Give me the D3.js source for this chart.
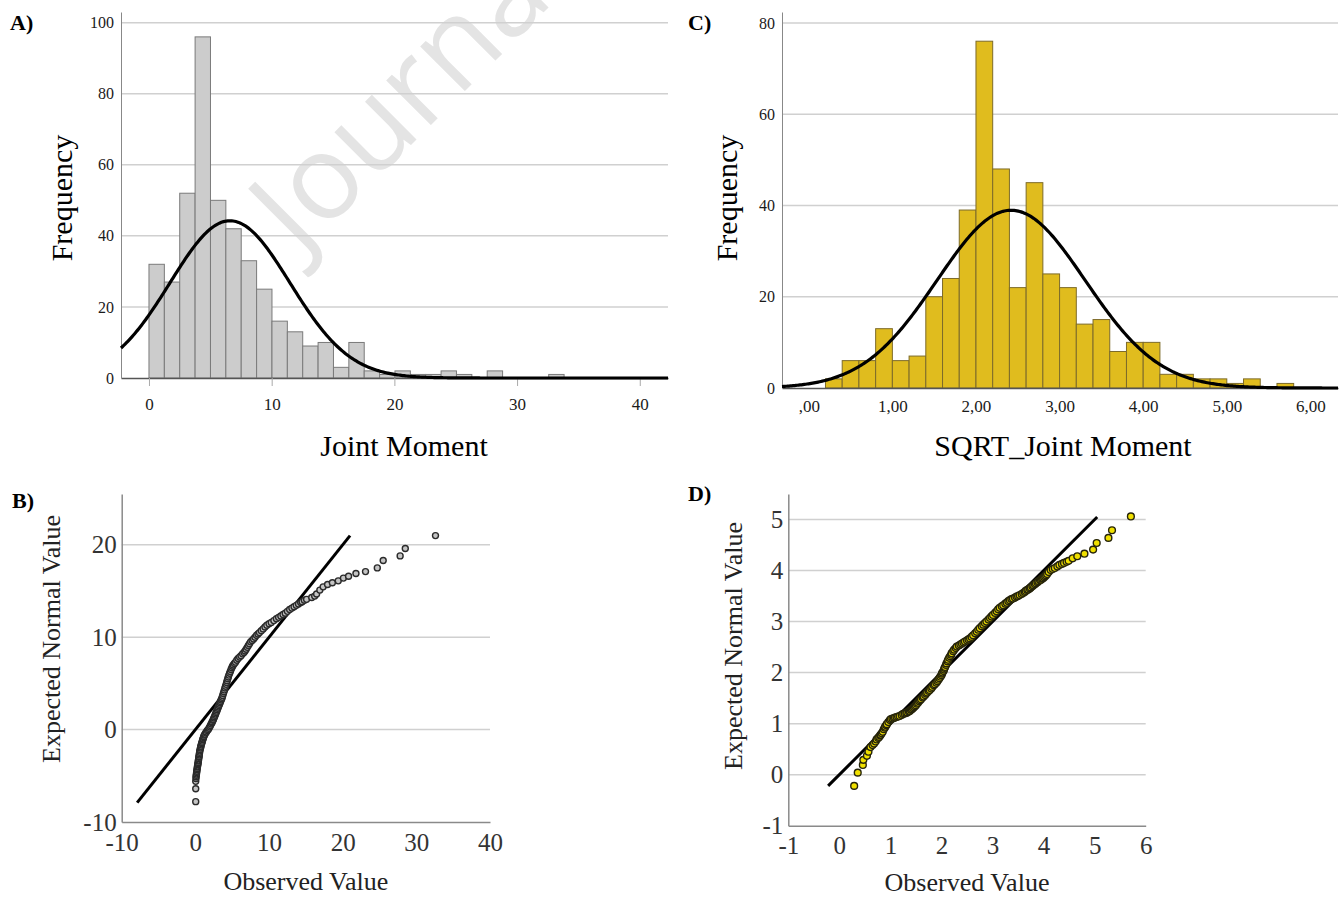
<!DOCTYPE html>
<html>
<head>
<meta charset="utf-8">
<script src="https://cdn.jsdelivr.net/npm/d3@7"></script>
<style>
  body { margin: 0; background: #fff; }
  svg text { font-family: "Liberation Serif", "Times New Roman", serif; }
</style>
</head>
<body>
<svg id="chart" width="1344" height="899"></svg>
<script>
// ---- data ----
// A) histogram of Joint Moment, bins of ~1.253 starting at 0
const histA = [32, 27, 52, 96, 50, 42, 33, 25, 16, 13, 9, 10, 3, 10, 2, 1, 2, 1, 1, 2, 1, 0, 2, 0, 0, 0, 1];
const binA = { start: 0, width: 1.253 };
const normA = { mean: 6.6, sd: 4.88, n: 432 };
const xTicksA = [0, 10, 20, 30, 40];
const yTicksA = [0, 20, 40, 60, 80, 100];

// C) histogram of SQRT_Joint Moment, bins of 0.2 starting at 0.2
const histC = [2, 6, 6, 13, 6, 7, 20, 24, 39, 76, 48, 22, 45, 25, 22, 14, 15, 8, 10, 10, 3, 3, 2, 2, 1, 2, 0, 1];
const binC = { start: 0.2, width: 0.2 };
const normC = { mean: 2.42, sd: 0.885, n: 432 };
const xTicksC = [0, 1, 2, 3, 4, 5, 6];
const xLabelsC = [",00", "1,00", "2,00", "3,00", "4,00", "5,00", "6,00"];
const yTicksC = [0, 20, 40, 60, 80];

// B) Q-Q plot of Joint Moment: [observed, expected]
const qqB = [
  [0.05, -7.8], [0.05, -6.4], [0.05, -5.6], [0.08, -5.3], [0.1, -5.1], [0.12, -4.95], [0.15, -4.8],
  [0.17, -4.65], [0.2, -4.5], [0.22, -4.35], [0.25, -4.2], [0.28, -4.05], [0.3, -3.95], [0.33, -3.8],
  [0.35, -3.7], [0.38, -3.55], [0.4, -3.4], [0.43, -3.3], [0.45, -3.15], [0.48, -3.0], [0.5, -2.9],
  [0.53, -2.75], [0.55, -2.6], [0.58, -2.45], [0.6, -2.3], [0.65, -2.15], [0.7, -2.0], [0.72, -1.9],
  [0.75, -1.8], [0.8, -1.65], [0.85, -1.5], [0.9, -1.4], [0.95, -1.25], [1.0, -1.1], [1.05, -1.0],
  [1.1, -0.85], [1.15, -0.75], [1.22, -0.6], [1.3, -0.5], [1.4, -0.35], [1.5, -0.25], [1.62, -0.1],
  [1.75, 0], [1.85, 0.15], [1.95, 0.3], [2.05, 0.45], [2.15, 0.6], [2.25, 0.75], [2.3, 0.85],
  [2.4, 1.0], [2.45, 1.1], [2.52, 1.25], [2.6, 1.4], [2.68, 1.55], [2.75, 1.7], [2.82, 1.85],
  [2.9, 2.0], [2.98, 2.15], [3.05, 2.3], [3.12, 2.45], [3.2, 2.6], [3.28, 2.75], [3.35, 2.9],
  [3.42, 3.05], [3.5, 3.2], [3.58, 3.35], [3.65, 3.5], [3.72, 3.7], [3.8, 3.9], [3.88, 4.1],
  [3.95, 4.3], [4.02, 4.5], [4.1, 4.7], [4.18, 4.9], [4.25, 5.1], [4.32, 5.3], [4.4, 5.5],
  [4.48, 5.7], [4.55, 5.9], [4.65, 6.1], [4.75, 6.3], [4.85, 6.5], [4.95, 6.7], [5.05, 6.85],
  [5.15, 7.0], [5.3, 7.15], [5.45, 7.3], [5.62, 7.5], [5.8, 7.7], [6.0, 7.85], [6.2, 8.0],
  [6.4, 8.2], [6.6, 8.35], [6.75, 8.5], [6.9, 8.7], [7.05, 8.9], [7.2, 9.1], [7.35, 9.3],
  [7.5, 9.5], [7.7, 9.65], [7.9, 9.8], [8.1, 10.0], [8.3, 10.2], [8.5, 10.35], [8.7, 10.5],
  [8.95, 10.7], [9.2, 10.9], [9.45, 11.1], [9.7, 11.3], [10.0, 11.45], [10.3, 11.6], [10.65, 11.8],
  [11.0, 12.0], [11.3, 12.15], [11.6, 12.3], [11.9, 12.45], [12.2, 12.6], [12.5, 12.8], [12.8, 13.0],
  [13.1, 13.15], [13.4, 13.3], [13.7, 13.45], [14.0, 13.6], [14.3, 13.75], [14.5, 13.85],
  [14.8, 14.0], [15.1, 14.1], [15.8, 14.3], [16.2, 14.45], [16.46, 14.67], [16.9, 15.1],
  [17.35, 15.45], [17.95, 15.7], [18.6, 15.9], [19.4, 16.1], [20.1, 16.4], [20.8, 16.6],
  [21.8, 16.9], [23.1, 17.1], [24.7, 17.5], [25.5, 18.3], [27.8, 18.8], [28.5, 19.6], [32.6, 21.0]
];
const refB = [[-7.9, -7.9], [21.0, 21.0]];
const xTicksB = [-10, 0, 10, 20, 30, 40];
const yTicksB = [-10, 0, 10, 20];

// D) Q-Q plot of SQRT_Joint Moment: [observed, expected]
const qqD = [
  [0.29, -0.22], [0.36, 0.04], [0.46, 0.19], [0.47, 0.29], [0.54, 0.37], [0.57, 0.45], [0.61, 0.54],
  [0.65, 0.58], [0.68, 0.61], [0.71, 0.65], [0.73, 0.69], [0.76, 0.72], [0.78, 0.74], [0.8, 0.77],
  [0.81, 0.78], [0.83, 0.81], [0.85, 0.84], [0.87, 0.89], [0.89, 0.92], [0.9, 0.94], [0.92, 0.97],
  [0.93, 0.99], [0.96, 1.03], [0.99, 1.07], [1.01, 1.09], [1.04, 1.10], [1.07, 1.11], [1.09, 1.12],
  [1.12, 1.13], [1.15, 1.14], [1.18, 1.15], [1.22, 1.17], [1.25, 1.19], [1.28, 1.2], [1.31, 1.21],
  [1.33, 1.22], [1.36, 1.24], [1.38, 1.25], [1.4, 1.27], [1.42, 1.28], [1.44, 1.3], [1.46, 1.32],
  [1.48, 1.34], [1.50, 1.36], [1.52, 1.39], [1.54, 1.41], [1.56, 1.44], [1.58, 1.46], [1.6, 1.48],
  [1.63, 1.51], [1.65, 1.53], [1.68, 1.56], [1.7, 1.59], [1.72, 1.61], [1.75, 1.64], [1.77, 1.66],
  [1.8, 1.69], [1.82, 1.72], [1.85, 1.75], [1.87, 1.77], [1.9, 1.8], [1.92, 1.83], [1.94, 1.86],
  [1.96, 1.89], [1.98, 1.92], [2.0, 1.95], [2.01, 1.98], [2.02, 2.0], [2.04, 2.03], [2.05, 2.06],
  [2.06, 2.09], [2.07, 2.11], [2.09, 2.15], [2.1, 2.18], [2.12, 2.22], [2.13, 2.25], [2.15, 2.29],
  [2.17, 2.32], [2.19, 2.35], [2.2, 2.38], [2.23, 2.42], [2.25, 2.45], [2.28, 2.48], [2.3, 2.51],
  [2.34, 2.53], [2.37, 2.55], [2.4, 2.57], [2.43, 2.59], [2.46, 2.61], [2.5, 2.63], [2.53, 2.65],
  [2.56, 2.67], [2.59, 2.7], [2.62, 2.73], [2.66, 2.77], [2.69, 2.8], [2.72, 2.84], [2.75, 2.87],
  [2.79, 2.91], [2.82, 2.94], [2.85, 2.97], [2.88, 3.0], [2.92, 3.04], [2.95, 3.07], [2.98, 3.1],
  [3.01, 3.13], [3.05, 3.17], [3.08, 3.2], [3.11, 3.24], [3.14, 3.27], [3.18, 3.3], [3.21, 3.32],
  [3.25, 3.35], [3.28, 3.37], [3.31, 3.4], [3.34, 3.42], [3.37, 3.44], [3.4, 3.45], [3.44, 3.47],
  [3.47, 3.49], [3.5, 3.5], [3.53, 3.52], [3.57, 3.54], [3.6, 3.56], [3.63, 3.58], [3.65, 3.6],
  [3.68, 3.62], [3.7, 3.63], [3.73, 3.65], [3.75, 3.67], [3.78, 3.69], [3.8, 3.71], [3.83, 3.73],
  [3.85, 3.75], [3.88, 3.77], [3.9, 3.79], [3.93, 3.81], [3.95, 3.82], [3.97, 3.84], [3.99, 3.85],
  [4.01, 3.87], [4.03, 3.89], [4.05, 3.91], [4.07, 3.93], [4.1, 3.97], [4.14, 4.01], [4.18, 4.03],
  [4.22, 4.05], [4.27, 4.08], [4.31, 4.11], [4.36, 4.13], [4.40, 4.15], [4.45, 4.17], [4.49, 4.19],
  [4.57, 4.24], [4.66, 4.28], [4.80, 4.33], [4.97, 4.41], [5.04, 4.54], [5.27, 4.64], [5.34, 4.79],
  [5.71, 5.06]
];
const refD = [[-0.22, -0.22], [5.05, 5.05]];
const xTicksD = [-1, 0, 1, 2, 3, 4, 5, 6];
const yTicksD = [-1, 0, 1, 2, 3, 4, 5];

const svg = d3.select("#chart");
const plainNum = (d) => String(d);

// watermark
svg.append("text")
  .attr("transform", "translate(300,256) rotate(-45)")
  .style("font-family", "'Open Sans', 'DejaVu Sans', sans-serif")
  .attr("font-size", 118)
  .attr("fill", "#e4e4e4")
  .text("Journal");

function drawHist(cfg) {
  const x = d3.scaleLinear().domain(cfg.xDomain).range([cfg.left, cfg.right]);
  const y = d3.scaleLinear().domain(cfg.yDomain).range([cfg.bottom, cfg.top]);
  const g = svg.append("g");

  g.selectAll(".grid")
    .data(cfg.yTicks.filter((v) => v > 0))
    .enter()
    .append("line")
    .attr("x1", cfg.left)
    .attr("x2", cfg.right)
    .attr("y1", (d) => y(d))
    .attr("y2", (d) => y(d))
    .attr("stroke", "#d0d0d0")
    .attr("stroke-width", 1.5);

  const bars = cfg.counts
    .map((c, i) => ({ c, x0: cfg.bin.start + i * cfg.bin.width }))
    .filter((d) => d.c > 0);
  g.selectAll(".bar")
    .data(bars)
    .enter()
    .append("rect")
    .attr("x", (d) => x(d.x0))
    .attr("width", (d) => x(d.x0 + cfg.bin.width) - x(d.x0))
    .attr("y", (d) => y(d.c))
    .attr("height", (d) => y(0) - y(d.c))
    .attr("fill", cfg.fill)
    .attr("stroke", cfg.stroke)
    .attr("stroke-width", 1);

  const xAxis = g.append("g")
    .attr("transform", `translate(0,${cfg.bottom})`)
    .call(d3.axisBottom(x).tickValues(cfg.xTicks).tickFormat(cfg.xFmt)
      .tickSize(cfg.xTickSize).tickSizeOuter(0).tickPadding(cfg.xPad));
  xAxis.select(".domain").attr("stroke", "#555").attr("stroke-width", 1.5);
  xAxis.selectAll(".tick line").attr("stroke", "#aaa");
  xAxis.selectAll("text").attr("font-size", 17).attr("fill", "#1a1a1a");

  const yAxis = g.append("g")
    .attr("transform", `translate(${cfg.left},0)`)
    .call(d3.axisLeft(y).tickValues(cfg.yTicks).tickSize(0).tickSizeOuter(0).tickPadding(7));
  yAxis.select(".domain").attr("stroke", "#888").attr("stroke-width", 1);
  yAxis.selectAll("text").attr("font-size", 16).attr("fill", "#1a1a1a");

  const sd = cfg.norm.sd, mu = cfg.norm.mean;
  const scaleN = cfg.norm.n * cfg.bin.width / (sd * Math.sqrt(2 * Math.PI));
  const curvePts = d3.range(cfg.xDomain[0], cfg.xDomain[1], (cfg.xDomain[1] - cfg.xDomain[0]) / 400)
    .concat([cfg.xDomain[1]])
    .map((v) => [v, scaleN * Math.exp(-0.5 * ((v - mu) / sd) ** 2)]);
  g.append("path")
    .datum(curvePts)
    .attr("fill", "none")
    .attr("stroke", "#000")
    .attr("stroke-width", 3.2)
    .attr("d", d3.line().x((d) => x(d[0])).y((d) => y(d[1])));

  g.append("text")
    .attr("transform", `translate(${cfg.yTitleX},198) rotate(-90)`)
    .attr("text-anchor", "middle")
    .attr("font-size", 30)
    .text("Frequency");
  g.append("text")
    .attr("x", cfg.xTitleX)
    .attr("y", cfg.xTitleY)
    .attr("text-anchor", "middle")
    .attr("font-size", 30)
    .text(cfg.xTitle);
}

function drawQQ(cfg) {
  const x = d3.scaleLinear().domain(cfg.xDomain).range([cfg.left, cfg.right]);
  const y = d3.scaleLinear().domain(cfg.yDomain).range([cfg.bottom, cfg.top]);
  const g = svg.append("g");

  g.selectAll(".grid")
    .data(cfg.yTicks.filter((v) => v > cfg.yDomain[0]))
    .enter()
    .append("line")
    .attr("x1", cfg.left)
    .attr("x2", cfg.right)
    .attr("y1", (d) => y(d))
    .attr("y2", (d) => y(d))
    .attr("stroke", "#d0d0d0")
    .attr("stroke-width", 1.5);

  const xAxis = g.append("g")
    .attr("transform", `translate(0,${cfg.bottom})`)
    .call(d3.axisBottom(x).tickValues(cfg.xTicks).tickFormat(plainNum)
      .tickSize(0).tickSizeOuter(0).tickPadding(11));
  xAxis.select(".domain").attr("stroke", "#8a8a8a").attr("stroke-width", 1.5);
  xAxis.selectAll("text").attr("font-size", 25).attr("fill", "#333");

  const yAxis = g.append("g")
    .attr("transform", `translate(${cfg.left},0)`)
    .call(d3.axisLeft(y).tickValues(cfg.yTicks).tickFormat(plainNum)
      .tickSize(0).tickSizeOuter(0).tickPadding(5));
  yAxis.select(".domain").attr("stroke", "#8a8a8a").attr("stroke-width", 1.5);
  yAxis.selectAll("text").attr("font-size", 25).attr("fill", "#333");

  g.append("path")
    .datum(cfg.ref)
    .attr("fill", "none")
    .attr("stroke", "#000")
    .attr("stroke-width", 3)
    .attr("d", d3.line().x((d) => x(d[0])).y((d) => y(d[1])));

  g.selectAll(".pt")
    .data(cfg.points)
    .enter()
    .append("circle")
    .attr("cx", (d) => x(d[0]))
    .attr("cy", (d) => y(d[1]))
    .attr("r", cfg.r)
    .attr("fill", cfg.fill)
    .attr("stroke", cfg.stroke)
    .attr("stroke-width", 1.4);

  g.append("text")
    .attr("transform", `translate(${cfg.yTitleX},${cfg.yTitleY}) rotate(-90)`)
    .attr("text-anchor", "middle")
    .attr("font-size", 26)
    .attr("fill", "#222")
    .text("Expected Normal Value");
  g.append("text")
    .attr("x", (cfg.left + cfg.right) / 2)
    .attr("y", cfg.xTitleY)
    .attr("text-anchor", "middle")
    .attr("font-size", 26)
    .attr("fill", "#222")
    .text("Observed Value");
}

drawHist({
  counts: histA, bin: binA, norm: normA,
  xDomain: [-2.28, 42.3], yDomain: [0, 103],
  left: 121, right: 668, top: 12, bottom: 378,
  xTicks: xTicksA, xFmt: d3.format("d"), xTickSize: 8, xPad: 12, yTicks: yTicksA,
  fill: "#cccccc", stroke: "#7a7a7a",
  yTitleX: 72, xTitleX: 404, xTitleY: 456, xTitle: "Joint Moment"
});

drawHist({
  counts: histC, bin: binC, norm: normC,
  xDomain: [-0.32, 6.33], yDomain: [0, 82.4],
  left: 782, right: 1338, top: 12, bottom: 388,
  xTicks: xTicksC, xFmt: (d, i) => xLabelsC[i], xTickSize: 0, xPad: 12, yTicks: yTicksC,
  fill: "#e0bc1e", stroke: "#7d6b2a",
  yTitleX: 737, xTitleX: 1063, xTitleY: 456, xTitle: "SQRT_Joint Moment"
});

drawQQ({
  points: qqB, ref: refB,
  xDomain: [-10, 40], yDomain: [-10, 25.5],
  left: 121.7, right: 490, top: 494, bottom: 822,
  xTicks: xTicksB, yTicks: yTicksB,
  r: 3, fill: "#c4c4c4", stroke: "#2a2a2a",
  yTitleX: 60, yTitleY: 639, xTitleY: 890
});

drawQQ({
  points: qqD, ref: refD,
  xDomain: [-1, 6], yDomain: [-1, 5.5],
  left: 788.3, right: 1145.7, top: 494, bottom: 825.7,
  xTicks: xTicksD, yTicks: yTicksD,
  r: 3.4, fill: "#f0e000", stroke: "#26240a",
  yTitleX: 742, yTitleY: 646, xTitleY: 891
});

// panel letters
const letters = [["A)", 10, 30], ["B)", 12, 508], ["C)", 688, 30], ["D)", 688, 501]];
svg.selectAll(".letter")
  .data(letters)
  .enter()
  .append("text")
  .attr("x", (d) => d[1])
  .attr("y", (d) => d[2])
  .attr("font-size", 22)
  .attr("font-weight", "bold")
  .text((d) => d[0]);
</script>
</body>
</html>
